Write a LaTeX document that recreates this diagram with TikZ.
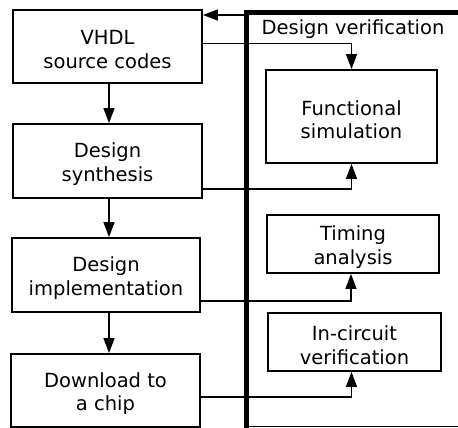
\documentclass[tikz,border=0pt]{standalone}
\usepackage{fontspec}
\setmainfont{DejaVu Sans}
\usetikzlibrary{arrows.meta}
\begin{document}
\begin{tikzpicture}[x=1pt,y=-1pt,
  box/.style={draw, line width=1.8pt, inner sep=0pt},
  txt/.style={inner sep=0pt, align=center, font=\fontsize{19.5}{23.5}\selectfont},
  arr/.style={line width=1.3pt, -{Triangle[length=15pt,width=11pt]}},
  conn/.style={line width=1.3pt},
  frame/.style={line width=5pt}]
\useasboundingbox (0,0) rectangle (458,428);
% left column
\node[box, minimum width=189pt, minimum height=73pt] (A) at (107.5,46.5) {};
\node[box, minimum width=189pt, minimum height=74pt] (B) at (107.5,161) {};
\node[box, minimum width=188pt, minimum height=74pt] (C) at (106,275) {};
\node[box, minimum width=189pt, minimum height=73pt] (D) at (105.5,390.5) {};
\node[txt] (At) at ([yshift=-3pt]A.center) {VHDL\\source codes};
\node[txt] (Bt) at ([yshift=-3pt]B.center) {Design\\synthesis};
\node[txt] (Ct) at ([yshift=-3pt]C.center) {Design\\implementation};
\node[txt] (Dt) at ([yshift=-3pt]D.center) {Download to\\a chip};
% right column
\node[box, minimum width=171pt, minimum height=93pt] (F) at (351.5,116.5) {};
\node[box, minimum width=172pt, minimum height=58pt] (T) at (353,244) {};
\node[box, minimum width=173pt, minimum height=58pt] (I) at (354.5,342) {};
\node[txt] (Ft) at ([yshift=-3pt]F.center) {Functional\\simulation};
\node[txt] (Tt) at ([yshift=-3pt]T.center) {Timing\\analysis};
\node[txt] (It) at ([yshift=-3pt]I.center) {In-circuit\\verification};
\node[txt, anchor=base] (DV) at (353,35) {Design verification};
% left arrows
\draw[arr] ([xshift=1.5pt]A.south) -- ([xshift=1.5pt]A.south |- B.north);
\draw[arr] ([xshift=1.5pt]B.south) -- ([xshift=1.5pt]B.south |- C.north);
\draw[arr] ([xshift=3pt]C.south) -- ([xshift=3pt]C.south |- D.north);
% connectors to right
\draw[arr] ([yshift=3pt]A.east) -| (F.north);
\draw[arr] ([yshift=-28pt]B.east) -| (F.south);
\draw[arr] ([yshift=-26pt]C.east) -| ([xshift=-2pt]T.south);
\draw[arr] ([yshift=-6.5pt]D.east) -| ([xshift=-3pt]I.south);
% frame
\coordinate (ftl) at (246,12.5);
\coordinate (ftr) at (470,12.5);
\coordinate (fbl) at (246,440);
\coordinate (bl) at (246,426.5);
\coordinate (br) at (470,426.5);
\draw[frame] (ftr) -- (ftl) -- (fbl);
\draw[conn] (bl) -- (br);
\coordinate (aIn) at ([yshift=31.5pt]A.east);
\draw[arr] (aIn -| ftl) -- (aIn);
\end{tikzpicture}
\end{document}
